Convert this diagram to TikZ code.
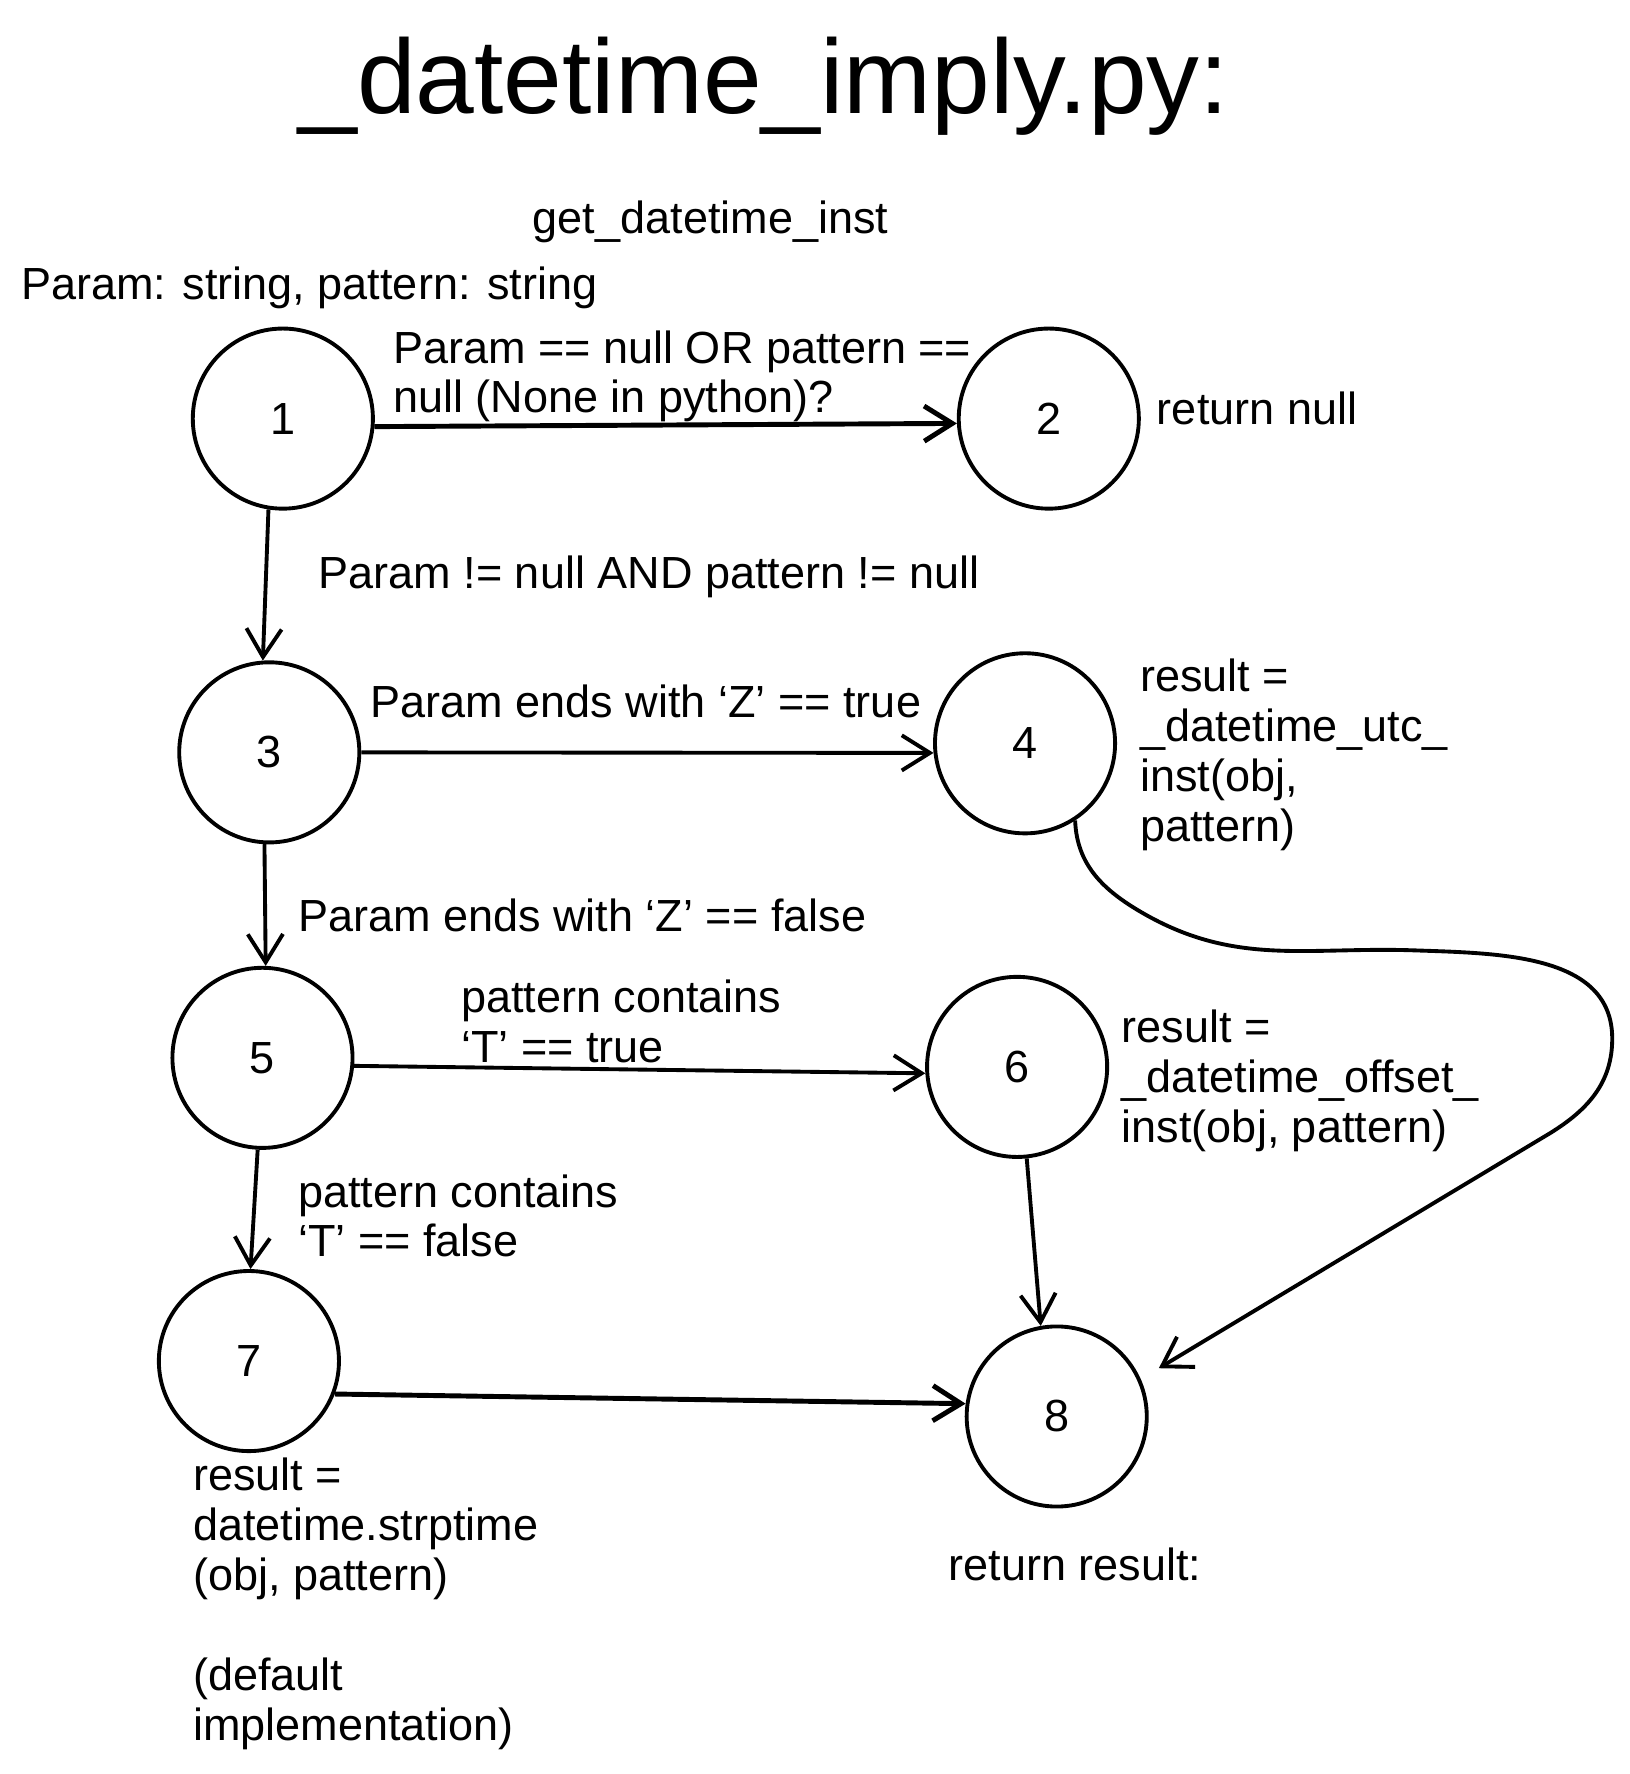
\documentclass[tikz,border=0pt]{standalone}
\usepackage{fontspec}
\setmainfont{Liberation Sans}
\usetikzlibrary{arrows.meta}

\tikzstyle{state} = [circle, draw=black, line width=1.1pt, minimum size=1.8cm, inner sep=0pt, font=\fontsize{12.8}{14.2}\selectfont]
\tikzstyle{note} = [anchor=base west, align=left, inner sep=0pt, font=\fontsize{12.8}{14.2}\selectfont]
\tikzstyle{arrow} = [line width=1.1pt, -{Straight Barb[length=8pt,width=10pt]}]

\begin{document}
\begin{tikzpicture}[x={(0.0113125cm,0)}, y={(0,-0.0113125cm)}]
		\useasboundingbox (0,0) rectangle (1440,1568);
		\node (title) [anchor=base, inner sep=0pt, font=\fontsize{30}{34}\selectfont] at (675,100) {\_datetime\_imply.py:};
		\node (func) [anchor=base, inner sep=0pt, font=\fontsize{12.8}{14.2}\selectfont] at (628,206) {get\_datetime\_inst};
		\node (params) [note] at (18,265) {Param: string, pattern: string};

		\node (n1) [state] at (250,370) {1};
		\node (n2) [state] at (927,370) {2};
		\node (n3) [state] at (238,665) {3};
		\node (n4) [state] at (906,657) {4};
		\node (n5) [state] at (232,935) {5};
		\node (n6) [state] at (899,943) {6};
		\node (n7) [state] at (220,1203) {7};
		\node (n8) [state] at (934,1252) {8};

		% multi-line notes sit on the baseline of their last line
		\node (c12) [note] at (347,365) {Param == null OR pattern ==\\null (None in python)?};
		\node (ret2) [note] at (1022,375) {return null};
		\node (c13) [note] at (281,520) {Param != null AND pattern != null};
		\node (c34) [note] at (327,634) {Param ends with ‘Z’ == true};
		\node (res4) [note] at (1007,744) {result =\\\_datetime\_utc\_\\inst(obj,\\pattern)};
		\node (c35) [note] at (263,823) {Param ends with ‘Z’ == false};
		\node (c56) [note] at (407,939) {pattern contains\\‘T’ == true};
		\node (res6) [note] at (991,1010) {result =\\\_datetime\_offset\_\\inst(obj, pattern)};
		\node (c57) [note] at (263,1111) {pattern contains\\‘T’ == false};
		\node (res7) [note] at (170,1538) {result =\\datetime.strptime\\(obj, pattern)\\[14.2pt](default\\implementation)};
		\node (ret8) [note] at (838,1397) {return result:};

		% way points of the long bend from 4 to 8
		\coordinate (k1) at (1010,807);
		\coordinate (k2) at (1250,840);
		\coordinate (k3) at (1425,918);
		\coordinate (k4) at (1371,1001);

		\draw [arrow, line width=1.4pt] (n1.-5) -- (n2.183);
		\draw [arrow] (n1.-99) -- (n3.94);
		\draw [arrow] (n3.0) -- (n4.186);
		\draw [arrow] (n3.-93) -- (n5.88);
		\draw [arrow] (n5.-5) -- (n6.184);
		\draw [arrow] (n5.-93) -- (n7.89);
		\draw [arrow] (n6.-84) -- (n8.100);
		\draw [arrow, line width=1.4pt] (n7.-21) -- (n8.172);
		\draw [arrow, shorten >=6pt] (n4.-57) to[out=-88,in=150] (k1) to[out=-30,in=178] (k2) to[out=-2,in=90] (k3) to[out=-90,in=32] (k4) -- (n8.24);
	\end{tikzpicture}
\end{document}
